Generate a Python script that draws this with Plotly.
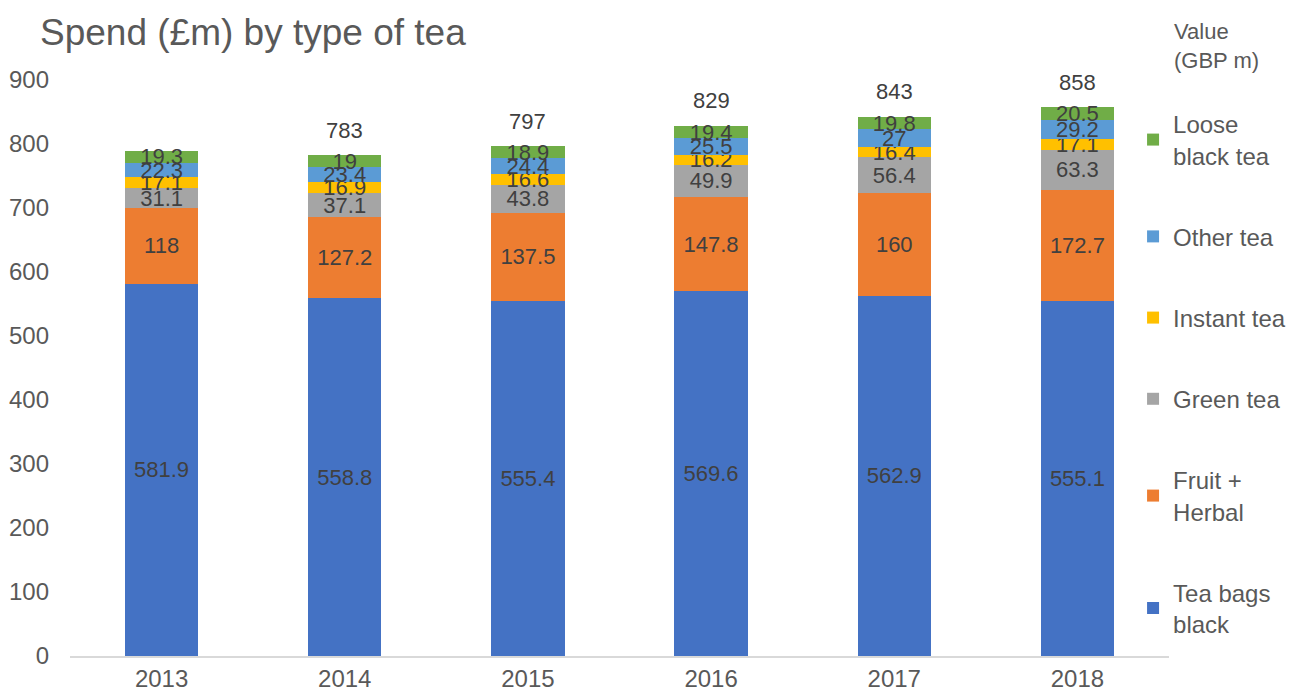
import plotly.graph_objects as go

years = ["2013", "2014", "2015", "2016", "2017", "2018"]
tea_bags_black = [581.9, 558.8, 555.4, 569.6, 562.9, 555.1]
fruit_herbal = [118, 127.2, 137.5, 147.8, 160, 172.7]
green_tea = [31.1, 37.1, 43.8, 49.9, 56.4, 63.3]
instant_tea = [17.1, 16.9, 16.6, 16.2, 16.4, 17.1]
other_tea = [22.3, 23.4, 24.4, 25.5, 27, 29.2]
loose_black_tea = [19.3, 19, 18.9, 19.4, 19.8, 20.5]
totals = [None, 783, 797, 829, 843, 858]

series = [
    ("Tea bags<br>black", tea_bags_black, "#4472C4"),
    ("Fruit +<br>Herbal", fruit_herbal, "#ED7D31"),
    ("Green tea", green_tea, "#A5A5A5"),
    ("Instant tea", instant_tea, "#FFC000"),
    ("Other tea", other_tea, "#5B9BD5"),
    ("Loose<br>black tea", loose_black_tea, "#70AD47"),
]

FONT = "Liberation Sans, Arial, sans-serif"
fig = go.Figure()
n = len(series)
for i, (name, vals, col) in enumerate(series):
    fig.add_trace(go.Bar(
        x=years, y=vals, name=name, marker_color=col, marker_line_width=0,
        text=[str(v) for v in vals], textposition="inside", textangle=0,
        insidetextanchor="middle", constraintext="none",
        textfont=dict(size=22, color="#404040", family=FONT),
        legendgroup=f"g{i}", legendrank=n - i, cliponaxis=False,
    ))

for idx, t in enumerate(totals):
    if t is not None:
        fig.add_annotation(x=idx, y=t, text=str(t), showarrow=False, yanchor="bottom",
                           yshift=10, font=dict(size=22, color="#404040", family=FONT))

fig.add_annotation(xref="paper", yref="paper", x=1.0027, xanchor="left",
                   y=1.059, yanchor="middle", align="left",
                   text="Value<br>(GBP m)", showarrow=False,
                   font=dict(size=22, color="#595959", family=FONT))

fig.update_layout(
    barmode="stack", bargap=0.6,
    width=1302, height=696,
    margin=dict(l=62, r=141, t=72, b=48),
    plot_bgcolor="white", paper_bgcolor="white",
    font=dict(family=FONT, color="#595959", size=24),
    title=dict(text="Spend (£m) by type of tea", x=0.0246, xanchor="left", y=0.9655, yanchor="middle",
               font=dict(size=37, color="#595959", family=FONT)),
    legend=dict(
        x=0.9673, xanchor="left", y=0.962, yanchor="top",
        traceorder="grouped", tracegroupgap=47, maxheight=1,
        font=dict(size=24, color="#595959", family=FONT),
        itemwidth=30,
    ),
    yaxis=dict(range=[0, 900], dtick=100, showgrid=False, zeroline=False,
               showline=False, ticks="", ticklabelstandoff=20, automargin=False,
               tickfont=dict(size=24, color="#595959")),
    xaxis=dict(type="category", showline=True, linecolor="#D9D9D9", linewidth=1.5, ticks="",
               tickfont=dict(size=24, color="#595959")),
)

fig.write_html("out.html")
